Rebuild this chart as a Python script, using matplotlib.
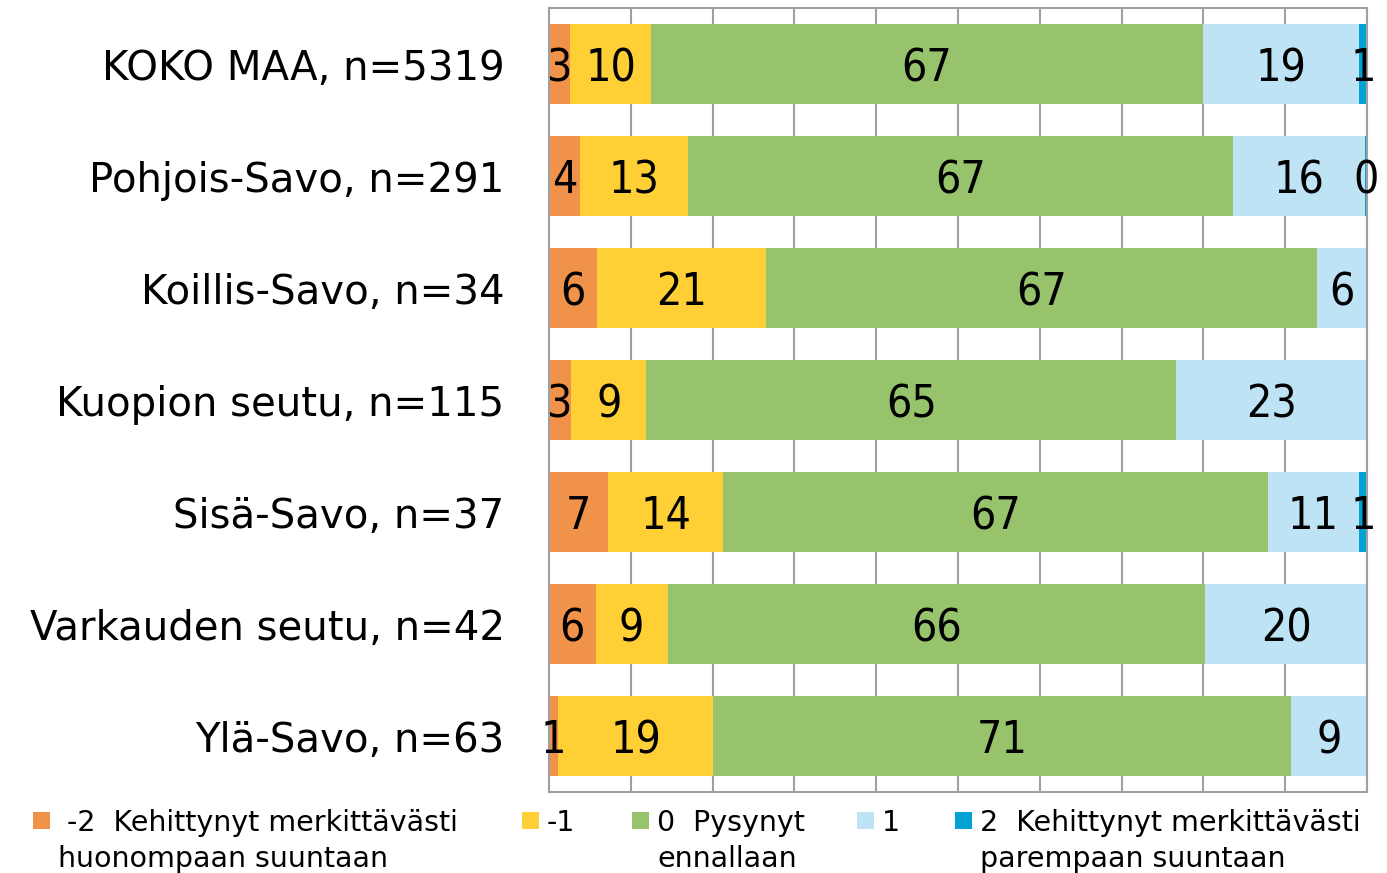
import matplotlib
matplotlib.use('Agg')
import matplotlib.pyplot as plt
from matplotlib.patches import Rectangle
import numpy as np

# alueet ja osuudet (%)
alueet = ['KOKO MAA, n=5319', 'Pohjois-Savo, n=291', 'Koillis-Savo, n=34',
          'Kuopion seutu, n=115', 'Sisä-Savo, n=37', 'Varkauden seutu, n=42',
          'Ylä-Savo, n=63']
miinus2 = [2.6, 3.8, 5.9, 2.7, 7.2, 5.7, 1.1]
miinus1 = [9.9, 13.2, 20.6, 9.2, 14.1, 8.8, 19.0]
nolla = [67.4, 66.6, 67.4, 64.8, 66.6, 65.7, 70.6]
plus1 = [19.1, 16.1, 6.1, 23.3, 11.1, 19.8, 9.3]
plus2 = [1.0, 0.3, 0, 0, 1.0, 0, 0]

sarjat = [miinus2, miinus1, nolla, plus1, plus2]
nimet = [' -2  Kehittynyt merkittävästi\nhuonompaan suuntaan', '-1',
         '0  Pysynyt\nennallaan', '1', '2  Kehittynyt merkittävästi\nparempaan suuntaan']
varit = ['#F0924A', '#FFD035', '#96C36C', '#BEE3F5', '#00A2D4']

plt.rcParams['font.family'] = ['DejaVu Sans']

W, H = 1387, 873
fig = plt.figure(figsize=(W / 100, H / 100), dpi=100)
ax = fig.add_axes([549 / W, 1 - 792 / H, (1367 - 549) / W, (792 - 8) / H])

y = np.arange(len(alueet))
vasen = np.zeros(len(alueet))
for arvot, vari in zip(sarjat, varit):
    arvot = np.array(arvot, dtype=float)
    ax.barh(y, arvot, left=vasen, height=0.71, color=vari, zorder=2)
    for i, v in enumerate(arvot):
        if v > 0:
            ax.text(vasen[i] + v / 2, y[i], f'{v:.0f}', ha='center', va='center_baseline',
                    fontsize=32, fontstretch='condensed', color='black', zorder=3, clip_on=False)
    vasen += arvot

ax.set_xlim(0, 100)
ax.set_ylim(len(alueet) - 0.5, -0.5)
ax.set_xticks(np.arange(0, 101, 10))
ax.set_xticklabels([])
ax.grid(axis='x', color='#A0A0A0', linewidth=1.5, zorder=0)
ax.tick_params(axis='both', length=0)
ax.set_yticks(y)
ax.set_yticklabels(alueet, fontsize=29)
ax.tick_params(axis='y', pad=32)
for s in ax.spines.values():
    s.set_color('#A0A0A0')
    s.set_linewidth(1.5)

# selite käsin, ruudut ja tekstit pikseleinä
selite_x = [33, 522, 632, 857, 955]
for sx, nimi, vari in zip(selite_x, nimet, varit):
    fig.patches.append(Rectangle((sx / W, 1 - 829 / H), 17 / W, 17 / H,
                                 transform=fig.transFigure, facecolor=vari, edgecolor='none'))
    for k, rivi in enumerate(nimi.split('\n')):
        fig.text((sx + 25) / W, 1 - (831 + 36 * k) / H, rivi, ha='left', va='baseline',
                 fontsize=20.5)

fig.savefig('out.png', dpi=100)
